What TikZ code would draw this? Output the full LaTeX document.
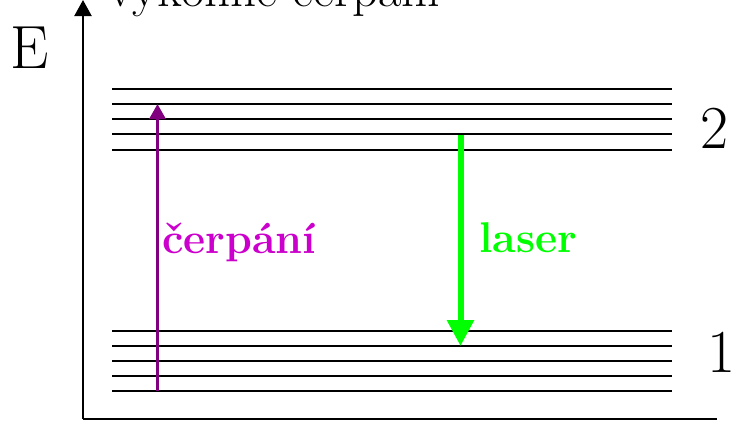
\documentclass[tikz,border=0pt]{standalone}
\usepackage{fontspec}
\usetikzlibrary{arrows.meta}
\definecolor{pumpcol}{RGB}{128,0,128}
\definecolor{pumptext}{RGB}{204,0,204}
\definecolor{lasercol}{RGB}{0,255,0}
\begin{document}
\begin{tikzpicture}[x=1pt,y=-1pt,
  axisline/.style={line width=2.2pt,black},
  level/.style={line width=2pt,black},
  pumparrow/.style={line width=3pt,pumpcol,-{Triangle[length=15pt,width=16pt]}},
  laserarrow/.style={line width=6pt,lasercol,-{Triangle[length=26pt,width=26pt]}},
  bigtext/.style={inner sep=0pt,anchor=base west,font=\fontsize{61}{66}\selectfont},
  toptext/.style={inner sep=0pt,anchor=base west,font=\fontsize{51}{58}\selectfont},
  lbl/.style={inner sep=0pt,anchor=base west,font=\fontsize{43}{52}\selectfont\bfseries}]
\path[use as bounding box,fill=white] (0,0) rectangle (740,426);
% axes
\coordinate (origin) at (83,419);
\coordinate (ytop) at (83,0);
\coordinate (xend) at (717,419);
\draw[axisline,-{Triangle[length=16pt,width=17pt]}] (origin) -- (ytop);
\draw[axisline] (origin) -- (xend);
% levels
\foreach \y/\n in {89/u1,104/u2,119/u3,134/u4,150/u5,331/l1,346/l2,361/l3,376/l4,391/l5}{
  \coordinate (\n a) at (112,\y);
  \coordinate (\n b) at (672,\y);
  \draw[level] (\n a) -- (\n b);
}
% arrows
\coordinate (pumpstart) at (157.5,391);
\coordinate (pumpend) at (157.5,104);
\draw[pumparrow] (pumpstart) -- (pumpend);
\coordinate (laserstart) at (460.5,135);
\coordinate (laserend) at (460.5,346);
\draw[laserarrow] (laserstart) -- (laserend);
% texts
\node[toptext] (top) at (108,6.5) {výkonné čerpání};
\node[bigtext] (E) at (10,68.3) {E};
\node[bigtext] (two) at (700,148) {2};
\node[bigtext] (one) at (707,372.5) {1};
\node[lbl,text=pumptext] (pumplbl) at (162,253) {čerpání};
\node[lbl,text=lasercol] (laserlbl) at (479,252) {laser};
\end{tikzpicture}
\end{document}
